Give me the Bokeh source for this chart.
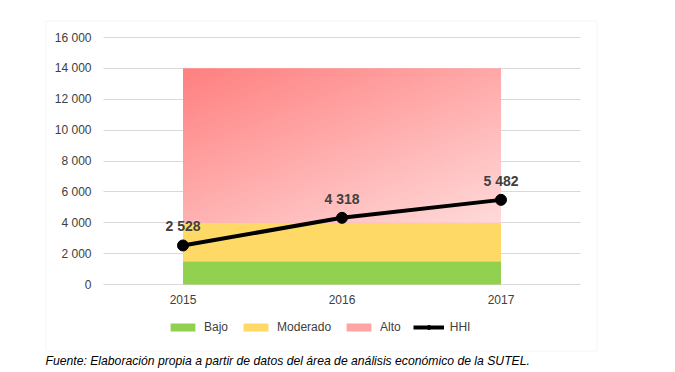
import numpy as np
from bokeh.plotting import figure
from bokeh.models import (Range1d, FixedTicker, Legend, LegendItem, Label, LinearAxis,
                          Grid, BoxAnnotation)
from bokeh.embed import file_html
from bokeh.resources import INLINE
from bokeh.core.properties import value

# ---- data ----
years = ["2015", "2016", "2017"]
bajo = [1500, 1500, 1500]
moderado = [2500, 2500, 2500]
alto = [10000, 10000, 10000]
hhi = [2528, 4318, 5482]
y_ticks = [0, 2000, 4000, 6000, 8000, 10000, 12000, 14000, 16000]
y_tick_labels = ["0", "2 000", "4 000", "6 000", "8 000", "10 000", "12 000", "14 000", "16 000"]
source_note = "Fuente: Elaboración propia a partir de datos del área de análisis económico de la SUTEL."

FONT = "Liberation Sans"
W, H = 660, 370
xs = list(range(len(years)))
b_top = list(bajo)
m_top = [b + m for b, m in zip(bajo, moderado)]
a_top = [m + a for m, a in zip(m_top, alto)]
x_lo, x_hi = xs[0] - 0.5, xs[-1] + 0.5
y_lo, y_hi = y_ticks[0], y_ticks[-1]

# layout: plotting region in pixels (frame covers the whole canvas)
PL, PR, PT, PB = 103, 580, 37, 284
ppu_x = (PR - PL) / (x_hi - x_lo)
ppu_y = (PB - PT) / (y_hi - y_lo)
def sx(px):
    return x_lo + (px - PL) / ppu_x
def sy(py):
    return y_lo + (PB - py) / ppu_y

p = figure(width=W, height=H, output_backend="svg", toolbar_location=None,
           x_range=Range1d(sx(0), sx(W)), y_range=Range1d(sy(H), sy(0)),
           x_axis_type=None, y_axis_type=None, min_border=0)
p.outline_line_color = None
p.background_fill_color = "white"
p.border_fill_color = "white"

# chart border box
p.add_layout(BoxAnnotation(left=sx(45.5), right=sx(596.5), top=sy(20.5), bottom=sy(350.5),
                           fill_alpha=0, line_color="#D9D9D9", line_width=1))

# grid
grid = Grid(dimension=1, ticker=FixedTicker(ticks=y_ticks), cross_bounds=(x_lo, x_hi),
            grid_line_color="#D9D9D9", grid_line_width=1)
p.add_layout(grid)

r_bajo = p.varea(x=xs, y1=[0] * len(xs), y2=b_top, fill_color="#92D050")
r_mod = p.varea(x=xs, y1=b_top, y2=m_top, fill_color="#FFD966")
r_alto = p.varea(x=xs, y1=m_top, y2=a_top, fill_color="#FFA3A3")

# gradient for the "Alto" band
GH, GW = 120, 240
img = np.empty((GH, GW), dtype=np.uint32)
view = img.view(dtype=np.uint8).reshape((GH, GW, 4))
xn = np.linspace(0, 1, GW)[None, :]
yn_top = 1 - np.linspace(0, 1, GH)[:, None]
t = 0.45 * xn + 0.55 * yn_top
gb = (128 + 90 * t).astype(np.uint8)
view[:, :, 0] = 255
view[:, :, 1] = gb
view[:, :, 2] = gb
view[:, :, 3] = 255
p.image_rgba(image=[img], x=xs[0], y=m_top[0], dw=xs[-1] - xs[0], dh=alto[0])

r_line = p.line(xs, hhi, line_color="black", line_width=4)
r_pts = p.scatter(xs, hhi, size=11, fill_color="black", line_color="black")

labels = [f"{v:,}".replace(",", " ") for v in hhi]
p.text(x=xs, y=hhi, text=labels, text_align="center", text_baseline="alphabetic",
       y_offset=-19, text_font=value(FONT), text_font_size="14px",
       text_font_style="bold", text_color="#404040")

# axes (drawn at fixed positions inside the canvas)
xaxis = LinearAxis(ticker=FixedTicker(ticks=xs), fixed_location=y_lo,
                   major_label_overrides={i: y for i, y in zip(xs, years)})
yaxis = LinearAxis(ticker=FixedTicker(ticks=y_ticks), fixed_location=x_lo,
                   major_label_overrides={t_: l for t_, l in zip(y_ticks, y_tick_labels)})
for ax in (xaxis, yaxis):
    ax.axis_line_color = None
    ax.major_tick_line_color = None
    ax.minor_tick_line_color = None
    ax.major_label_text_font = FONT
    ax.major_label_text_font_size = "12px"
    ax.major_label_text_color = "#404040"
xaxis.major_label_standoff = 4
yaxis.major_label_standoff = 6
p.add_layout(xaxis, "below")
p.add_layout(yaxis, "left")

legend = Legend(items=[
    LegendItem(label="Bajo", renderers=[r_bajo]),
    LegendItem(label="Moderado", renderers=[r_mod]),
    LegendItem(label="Alto", renderers=[r_alto]),
    LegendItem(label="HHI", renderers=[r_line, r_pts]),
], orientation="horizontal", location=(167, H - 334), padding=0, margin=0,
    spacing=12, label_standoff=6, glyph_width=31, glyph_height=10,
    label_text_font=FONT, label_text_font_size="12px", label_text_color="#404040",
    background_fill_alpha=0, border_line_color=None)
p.add_layout(legend, "center")

p.add_layout(Label(x=sx(45), y=sy(360), text=source_note, text_font=FONT,
                   text_font_size="12.2px", text_font_style="italic",
                   text_color="black", text_baseline="middle"))

open("out.html", "w").write(file_html(p, INLINE))
